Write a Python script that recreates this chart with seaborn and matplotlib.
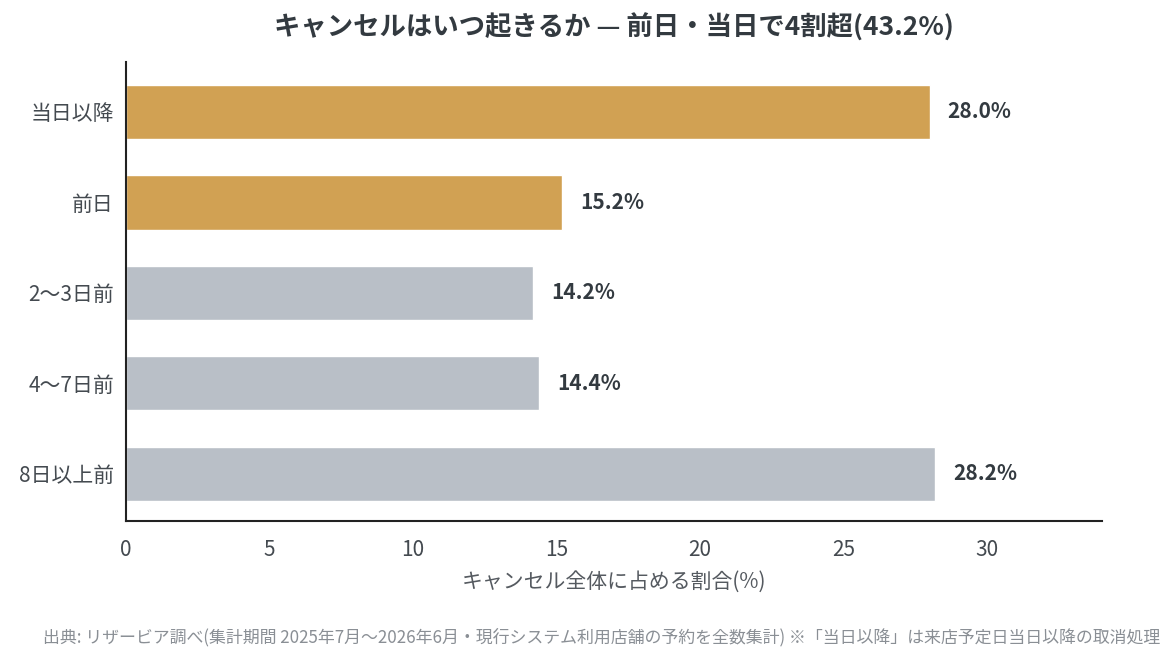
import matplotlib
matplotlib.use("Agg")
import matplotlib.pyplot as plt
import seaborn as sns
import pandas as pd

categories = ["当日以降", "前日", "2〜3日前", "4〜7日前", "8日以上前"]
shares = [28.0, 15.2, 14.2, 14.4, 28.2]
highlight = [True, True, False, False, False]

sns.set_theme(style="white")
plt.rcParams['font.family'] = ['Noto Sans CJK JP', 'DejaVu Sans']

df = pd.DataFrame({"cat": categories, "share": shares})
gold = "#D1A153"
grey = "#B9BFC7"
palette = [gold if h else grey for h in highlight]
textc = "#333A40"

fig, ax = plt.subplots(figsize=(11.76, 6.61), dpi=100)
fig.subplots_adjust(left=0.107, right=0.937, top=0.906, bottom=0.212)

sns.barplot(data=df, x="share", y="cat", hue="cat", palette=palette,
            width=0.6, legend=False, ax=ax, saturation=1)

for i, v in enumerate(shares):
    ax.text(v + 0.63, i, f"{v:.1f}%", va="center", ha="left",
            fontsize=15, fontweight="bold", color=textc)

ax.set_xlim(0, 34)
ax.set_ylim(4.52, -0.55)
ax.set_xticks([0, 5, 10, 15, 20, 25, 30])
ax.set_ylabel("")
ax.set_xlabel("キャンセル全体に占める割合(%)", fontsize=15, color="#555A60", labelpad=7)
ax.tick_params(axis="both", labelsize=15, colors="#444A50", length=5, width=1.2, direction="out")
ax.tick_params(axis="x", pad=8)
for s in ["top", "right"]:
    ax.spines[s].set_visible(False)
for s in ["left", "bottom"]:
    ax.spines[s].set_color("#222222")
    ax.spines[s].set_linewidth(1.5)

ax.set_title("キャンセルはいつ起きるか — 前日・当日で4割超(43.2%)",
             fontsize=19, fontweight="bold", color=textc, pad=19)

fig.text(0.987, 0.036,
         "出典: リザービア調べ(集計期間 2025年7月〜2026年6月・現行システム利用店舗の予約を全数集計) ※「当日以降」は来店予定日当日以降の取消処理",
         ha="right", va="center", fontsize=12.2, color="#8A8F95")

fig.savefig("out.png", dpi=100)
